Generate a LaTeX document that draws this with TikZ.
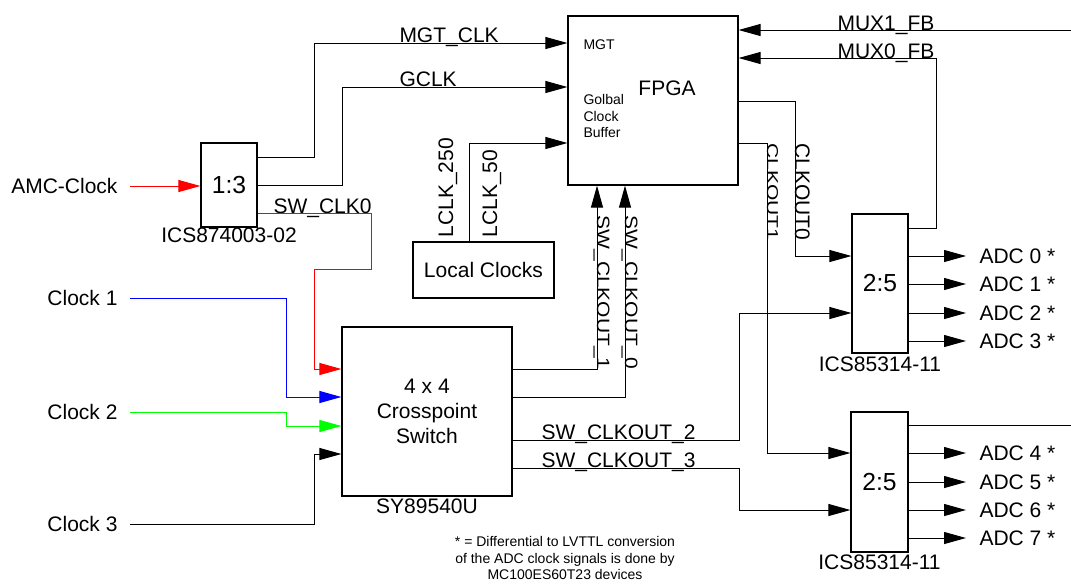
\documentclass[tikz,border=0pt]{standalone}
\usepackage{fontspec}
\usepackage{graphicx}
\setmainfont{Liberation Sans}
\usetikzlibrary{arrows.meta,positioning}

\newcommand\bigfont{\fontsize{15.75}{19}\selectfont}
\newcommand\ratiofont{\fontsize{18.5}{22}\selectfont}
\newcommand\smallfont{\fontsize{10.5}{12.6}\selectfont}

\tikzstyle{block} = [draw, rectangle, line width=0.9pt, inner sep=0pt, align=center]
\tikzstyle{part} = [inner sep=0pt]
\tikzstyle{sig} = [anchor=base west, inner sep=0pt]
\tikzstyle{pin} = [anchor=east, inner xsep=9pt, inner ysep=0pt]
\tikzstyle{adc} = [anchor=west, inner xsep=9.75pt, inner ysep=0pt]

\begin{document}
\begin{tikzpicture}[auto,>={Triangle[length=16.5pt,width=9pt]},x=0.75pt,y=-0.75pt,line width=0.75pt,font=\bigfont]
            \useasboundingbox (0,0) rectangle (1071,583);
            %
            % We start by placing the blocks
            \node [block, minimum width=42pt, minimum height=63pt, font=\ratiofont] (div13) at (229,185) {1:3};
            \node [part, below=0pt of div13] (div13name) {ICS874003-02};
            \node [block, minimum width=127.5pt, minimum height=126.75pt] (fpga) at (653,100.5) {};
            \node [part] (fpganame) at (667,88) {FPGA};
            \node [part, anchor=west, font=\smallfont] (mgtpart) at (583,44.5) {MGT};
            \node [part, anchor=west, font=\smallfont, align=left] (gcbpart) at (583,116) {Golbal\\Clock\\Buffer};
            \node [block, minimum width=105.75pt, minimum height=42pt] (local) at (483.5,270) {Local Clocks};
            \node [block, minimum width=127.5pt, minimum height=126.75pt] (xpt) at (427,411.5) {4 x 4\\Crosspoint\\Switch};
            \node [part, below=1pt of xpt] (xptname) {SY89540U};
            \node [block, minimum width=42pt, minimum height=104.25pt, font=\ratiofont] (fanA) at (880,283.5) {2:5};
            \node [part, below=2pt of fanA] (fanAname) {ICS85314-11};
            \node [block, minimum width=42.75pt, minimum height=105pt, font=\ratiofont] (fanB) at (879.5,482) {2:5};
            \node [part, below=1pt of fanB] (fanBname) {ICS85314-11};
            %
            % Clock inputs on the left
            \node [pin] (amc) at (130,186) {AMC-Clock};
            \node [pin] (clk1) at (130,298) {Clock 1};
            \node [pin] (clk2) at (130,412) {Clock 2};
            \node [pin] (clk3) at (130,524) {Clock 3};
            %
            % Signal names
            \node [sig] (mgtclk) at (399,42) {MGT\_CLK};
            \node [sig] (gclk) at (399,86) {GCLK};
            \node [sig] (swclk0) at (273,213) {SW\_CLK0};
            \node [sig] (mux1fb) at (837,30) {MUX1\_FB};
            \node [sig] (mux0fb) at (837,58) {MUX0\_FB};
            \node [sig] (swout2) at (541,439) {SW\_CLKOUT\_2};
            \node [sig] (swout3) at (541,467) {SW\_CLKOUT\_3};
            \node [sig, rotate=90] (lclk250) at (453,238) {LCLK\_250};
            \node [sig, rotate=90] (lclk50) at (497,238) {LCLK\_50};
            \node [sig, rotate=-90] (clkout0) at (795,143) {CLKOUT0};
            \node [sig, rotate=-90] (clkout1) at (767,143) {\scalebox{1}[0.75]{CLKOUT1}};
            \node [sig, rotate=-90] (swout1) at (597,215) {\scalebox{1}[0.85]{SW\_CLKOUT\_1}};
            \node [sig, rotate=-90] (swout0) at (625,215) {\scalebox{1}[0.85]{SW\_CLKOUT\_0}};
            %
            % Once the nodes are placed, connecting them is easy.
            \draw [->, red] (amc.east) -- (div13.west |- amc.east);
            \draw [->] (div13.east |- 0,157) -| (314,43) -- (fpga.west |- 0,43);
            \draw [->] (div13.east |- 0,185) -| (342,87) -- (fpga.west |- 0,87);
            \draw [->, red] (div13.east |- 0,213) -| (371,269) -| (314,369) -- (xpt.west |- 0,369);
            \draw [->, blue] (clk1.east) -| (286,397) -- (xpt.west |- 0,397);
            \draw [->, green] (clk2.east) -| (286,426) -- (xpt.west |- 0,426);
            \draw [->] (clk3.east) -| (314,454) -- (xpt.west |- 0,454);
            \draw [->] (local.north -| 469,0) |- (fpga.west |- 0,143);
            \draw [->] (xpt.east |- 0,369) -| (fpga.south -| 597,0);
            \draw [->] (xpt.east |- 0,397) -| (fpga.south -| 625,0);
            \draw [->] (fpga.east |- 0,101) -| (795,256) -- (fanA.west |- 0,256);
            \draw [->] (fpga.east |- 0,143) -| (767,453) -- (fanB.west |- 0,453);
            \coordinate (mux1in) at (1071,30);
            \draw [->] (mux1in) -- (fpga.east |- mux1in);
            \draw [->] (fanA.east |- 0,228) -| (936,58) -- (fpga.east |- 0,58);
            \draw [->] (xpt.east |- 0,440) -| (739,313) -- (fanA.west |- 0,313);
            \draw [->] (xpt.east |- 0,468) -| (739,510) -- (fanB.west |- 0,510);
            \coordinate (fbout) at (1071,425);
            \draw (fanB.east |- fbout) -- (fbout);
            %
            % ADC clock outputs
            \foreach \y/\n in {256/0,284/1,313/2,341/3} {
                \node [adc] (adc\n) at (966,\y) {ADC \n{} *};
                \draw [->] (fanA.east |- adc\n.west) -- (adc\n.west);
            }
            \foreach \y/\n in {453/4,482/5,510/6,538/7} {
                \node [adc] (adc\n) at (966,\y) {ADC \n{} *};
                \draw [->] (fanB.east |- adc\n.west) -- (adc\n.west);
            }
            %
            \node [part, font=\smallfont, align=center] (note) at (565,558) {* = Differential to LVTTL conversion\\of the ADC clock signals is done by\\MC100ES60T23 devices};
            %
        \end{tikzpicture}
\end{document}
